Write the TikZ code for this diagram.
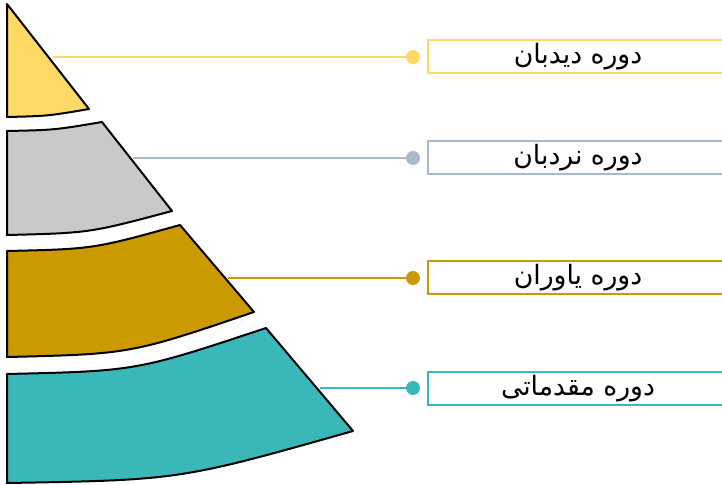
\documentclass[tikz,border=0pt]{standalone}
\usepackage{fontspec}
\newfontfamily\arabicfont[Script=Arabic]{DejaVu Sans}
\TeXXeTstate=1

\tikzset{every picture/.style={line width=0.75pt}}
\tikzset{
  lvlshape/.style={draw=black, line width=1.5, line join=round},
  lvllink/.style={line width=1.5},
  lvldot/.style={circle, inner sep=0pt, minimum size=10.5pt},
  lvlbox/.style={draw, line width=1.5, fill=white, anchor=west, minimum width=225pt, minimum height=24.75pt, inner sep=0pt, font=\arabicfont\fontsize{20}{22}\selectfont},
}

\begin{document}
\begin{tikzpicture}[x=0.75pt,y=0.75pt,yscale=-1,xscale=1]
\useasboundingbox (0,0) rectangle (722,485);

%Shape: Polygon Curved [id:top]
\draw [lvlshape, fill={rgb, 255:red, 255; green, 217; blue, 102 }] (7,4) -- (89,109) .. controls (48,116) .. (7,117) -- cycle ;
%Shape: Polygon Curved [id:second]
\draw [lvlshape, fill={rgb, 255:red, 201; green, 201; blue, 201 }] (7,131) .. controls (54.5,130) .. (102,122) -- (172,211) .. controls (89.5,233) .. (7,235) -- cycle ;
%Shape: Polygon Curved [id:third]
\draw [lvlshape, fill={rgb, 255:red, 203; green, 153; blue, 0 }] (7,251) .. controls (93.5,249) .. (180,225) -- (254,312) .. controls (130.5,354) .. (7,357) -- cycle ;
%Shape: Polygon Curved [id:base]
\draw [lvlshape, fill={rgb, 255:red, 58; green, 183; blue, 185 }] (7,374) .. controls (136.5,371) .. (266,328) -- (353,431) .. controls (180,480) .. (7,483) -- cycle ;

\coordinate (e1) at (53,57);
\coordinate (e2) at (133,158);
\coordinate (e3) at (228,278);
\coordinate (e4) at (320,388);

% Dots
\node [lvldot, fill={rgb, 255:red, 255; green, 217; blue, 102 }] (d1) at (413,57) {};
\node [lvldot, fill={rgb, 255:red, 172; green, 185; blue, 202 }] (d2) at (413,158) {};
\node [lvldot, fill={rgb, 255:red, 203; green, 153; blue, 0 }] (d3) at (413,278) {};
\node [lvldot, fill={rgb, 255:red, 58; green, 183; blue, 185 }] (d4) at (413,388) {};

%Straight Lines
\draw [lvllink, color={rgb, 255:red, 255; green, 217; blue, 102 }] (e1) -- (d1) ;
\draw [lvllink, color={rgb, 255:red, 172; green, 185; blue, 202 }] (e2) -- (d2) ;
\draw [lvllink, color={rgb, 255:red, 203; green, 153; blue, 0 }] (e3) -- (d3) ;
\draw [lvllink, color={rgb, 255:red, 58; green, 183; blue, 185 }] (e4) -- (d4) ;

% Text Node
\node [lvlbox, draw={rgb, 255:red, 255; green, 217; blue, 102 }] (b1) at (427,56.5) {\beginR دوره دیدبان\endR};
\node [lvlbox, draw={rgb, 255:red, 172; green, 185; blue, 202 }] (b2) at (427,158) {\beginR دوره نردبان\endR};
\node [lvlbox, draw={rgb, 255:red, 203; green, 153; blue, 0 }] (b3) at (427,277.5) {\beginR دوره یاوران\endR};
\node [lvlbox, draw={rgb, 255:red, 58; green, 183; blue, 185 }] (b4) at (427,388.5) {\beginR دوره مقدماتی\endR};

\end{tikzpicture}
\end{document}
